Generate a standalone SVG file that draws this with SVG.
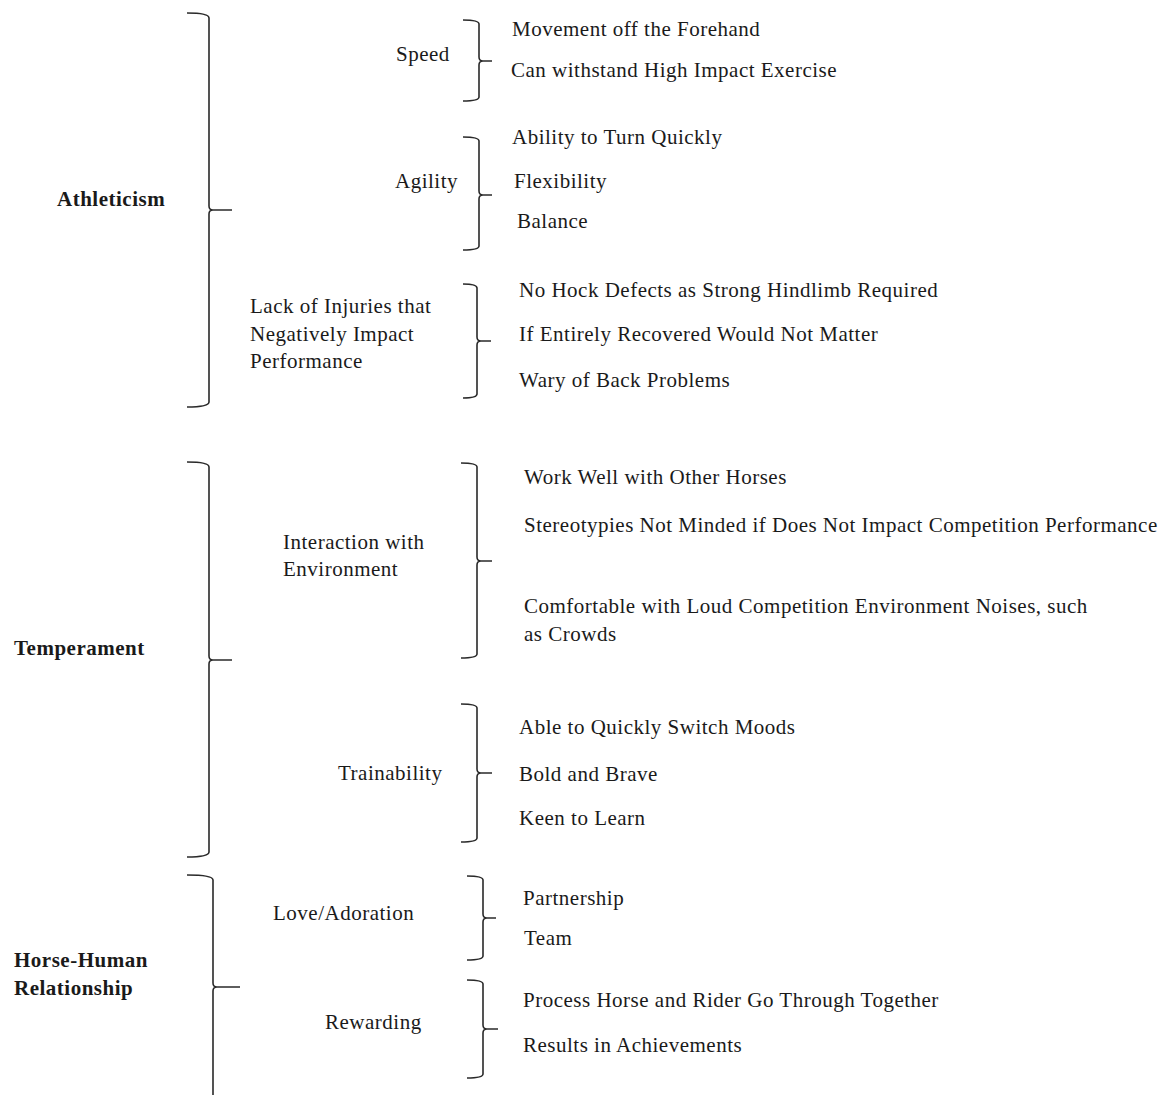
<svg xmlns="http://www.w3.org/2000/svg" width="1164" height="1095" viewBox="0 0 1164 1095">
<style>
text{font-family:"Liberation Serif","Times New Roman",serif;font-size:21px;letter-spacing:0.5px;fill:#1a1a1a}
.b{font-weight:bold}
.br{fill:none;stroke:#2a2a2a;stroke-width:1.6;stroke-linejoin:round}
</style>
<rect width="1164" height="1095" fill="#fff"/>
<g id="connectors">
<path class="br" d="M187 13 Q209 13 209 18 L209 206 Q209 210 213 210 L232 210 M213 210 Q209 210 209 214 L209 402 Q209 407 187 407"/>
<path class="br" d="M187 462 Q209 462 209 467 L209 656 Q209 660 213 660 L232 660 M213 660 Q209 660 209 664 L209 852 Q209 857 187 857"/>
<path class="br" d="M187 875 Q213 875 213 880 L213 983 Q213 987 217 987 L240 987 M217 987 Q213 987 213 991 L213 1095"/>
<path class="br" d="M463 20 Q479 20 479 24 L479 57 Q479 61 483 61 L492 61 M483 61 Q479 61 479 65 L479 97 Q479 101 463 101"/>
<path class="br" d="M463 137 Q479 137 479 141 L479 191 Q479 195 483 195 L492 195 M483 195 Q479 195 479 199 L479 246 Q479 250 463 250"/>
<path class="br" d="M463 284 Q477 284 477 288 L477 337 Q477 341 481 341 L491 341 M481 341 Q477 341 477 345 L477 394 Q477 398 463 398"/>
<path class="br" d="M461 463 Q477 463 477 467 L477 557 Q477 561 481 561 L492 561 M481 561 Q477 561 477 565 L477 654 Q477 658 461 658"/>
<path class="br" d="M461 704 Q477 704 477 708 L477 769 Q477 773 481 773 L492 773 M481 773 Q477 773 477 777 L477 838 Q477 842 461 842"/>
<path class="br" d="M467 876 Q483 876 483 880 L483 914 Q483 918 487 918 L496 918 M487 918 Q483 918 483 922 L483 956 Q483 960 467 960"/>
<path class="br" d="M467 980 Q483 980 483 984 L483 1025 Q483 1029 487 1029 L498 1029 M487 1029 Q483 1029 483 1033 L483 1074 Q483 1078 467 1078"/>
</g>
<g id="athleticism"><text class="b" x="57" y="206">Athleticism</text></g>
<g id="speed"><text x="396" y="61">Speed</text></g>
<g id="movement"><text x="512" y="36">Movement off the Forehand</text></g>
<g id="withstand"><text x="511" y="77">Can withstand High Impact Exercise</text></g>
<g id="agility"><text x="395" y="188">Agility</text></g>
<g id="turn"><text x="512" y="144">Ability to Turn Quickly</text></g>
<g id="flexibility"><text x="514" y="188">Flexibility</text></g>
<g id="balance"><text x="517" y="228">Balance</text></g>
<g id="injuries"><text x="250" y="313">Lack of Injuries that</text><text x="250" y="341">Negatively Impact</text><text x="250" y="368">Performance</text></g>
<g id="hock"><text x="519" y="297">No Hock Defects as Strong Hindlimb Required</text></g>
<g id="recovered"><text x="519" y="341">If Entirely Recovered Would Not Matter</text></g>
<g id="back"><text x="519" y="387">Wary of Back Problems</text></g>
<g id="temperament"><text class="b" x="14" y="655">Temperament</text></g>
<g id="interaction"><text x="283" y="549">Interaction with</text><text x="283" y="576">Environment</text></g>
<g id="horses"><text x="524" y="484">Work Well with Other Horses</text></g>
<g id="stereotypies"><text x="524" y="532">Stereotypies Not Minded if Does Not Impact Competition Performance</text></g>
<g id="noises"><text x="524" y="613">Comfortable with Loud Competition Environment Noises, such</text><text x="524" y="641">as Crowds</text></g>
<g id="trainability"><text x="338" y="780">Trainability</text></g>
<g id="moods"><text x="519" y="734">Able to Quickly Switch Moods</text></g>
<g id="bold"><text x="519" y="781">Bold and Brave</text></g>
<g id="keen"><text x="519" y="825">Keen to Learn</text></g>
<g id="relationship"><text class="b" x="14" y="967">Horse-Human</text><text class="b" x="14" y="995">Relationship</text></g>
<g id="love"><text x="273" y="920">Love/Adoration</text></g>
<g id="partnership"><text x="523" y="905">Partnership</text></g>
<g id="team"><text x="524" y="945">Team</text></g>
<g id="rewarding"><text x="325" y="1029">Rewarding</text></g>
<g id="process"><text x="523" y="1007">Process Horse and Rider Go Through Together</text></g>
<g id="results"><text x="523" y="1052">Results in Achievements</text></g>
</svg>
